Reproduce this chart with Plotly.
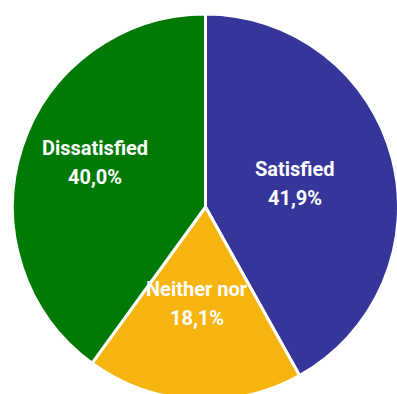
import math
import plotly.graph_objects as go

labels = ["Satisfied", "Neither nor", "Dissatisfied"]
values = [41.9, 18.1, 40.0]
colors = ["#35359A", "#F6B40E", "#007A05"]

# label placement style (fraction of radius, angular nudge in degrees)
label_rfrac = [0.48, 0.50, 0.62]
label_dang = [0.0, 1.5, 4.0]

W, H = 399, 401
cx, cy, r = 205.5, 207, 193

fig = go.Figure(go.Pie(
    labels=labels,
    values=values,
    sort=False,
    direction="clockwise",
    rotation=0,
    marker=dict(colors=colors, line=dict(color="white", width=3)),
    textinfo="none",
    hoverinfo="label+percent",
    domain=dict(x=[(cx - r) / W, (cx + r) / W], y=[(H - cy - r) / H, (H - cy + r) / H]),
))

font = dict(family="Roboto, Liberation Sans, Arial, sans-serif", size=20, color="white", weight="bold")
total = sum(values)
cum = 0.0
annotations = []
for lab, v, rf, da in zip(labels, values, label_rfrac, label_dang):
    mid = (cum + v / 2) / total * 360 + da
    cum += v
    px = cx + rf * r * math.sin(math.radians(mid))
    py = cy - rf * r * math.cos(math.radians(mid))
    pct = f"{v / total * 100:.1f}%".replace(".", ",")
    for txt, off in ((lab, -14.5), (pct, 14.5)):
        annotations.append(dict(
            x=px / W, y=1 - (py + off) / H, xref="paper", yref="paper",
            text=txt, showarrow=False, font=font,
            xanchor="center", yanchor="middle",
        ))

fig.update_layout(
    width=W, height=H,
    margin=dict(l=0, r=0, t=0, b=0),
    paper_bgcolor="white",
    showlegend=False,
    annotations=annotations,
)

fig.write_html("out.html", config={"displayModeBar": False},
               post_script="document.body.style.margin='0';document.body.style.overflow='hidden';")
